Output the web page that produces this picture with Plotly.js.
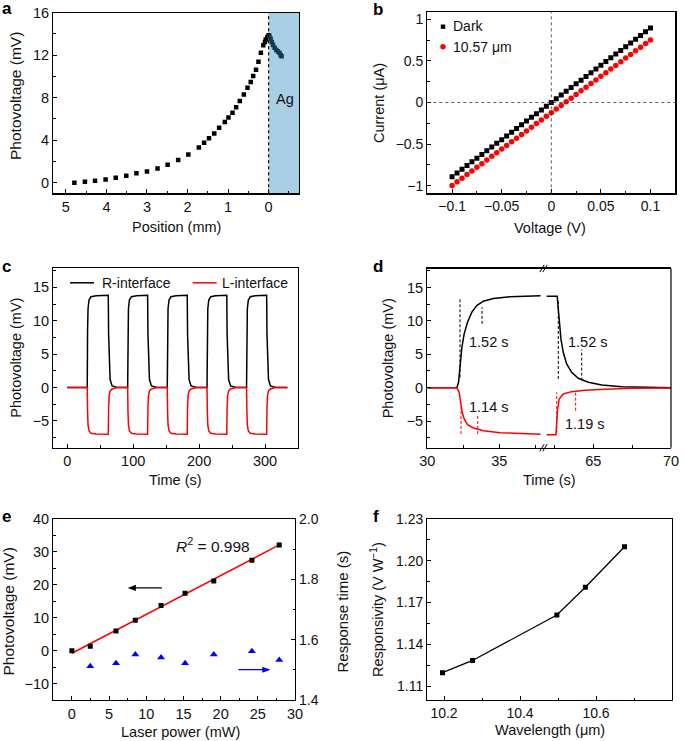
<!DOCTYPE html>
<html><head><meta charset="utf-8">
<script src="https://cdn.plot.ly/plotly-3.0.1.min.js"></script>
<style>html,body{margin:0;padding:0;background:#fff}#chart{width:685px;height:741px}</style>
</head><body><div id="chart"></div>
<script>
// ---------------- DATA ----------------
// a: photovoltage vs position
const aPosition = [4.79,4.53,4.28,4.02,3.77,3.51,3.26,3.00,2.74,2.49,2.23,1.98,1.72,1.59,1.47,1.34,1.22,1.08,0.99,0.89,0.80,0.71,0.61,0.52,0.44,0.38,0.31,0.25,0.19,0.13,0.09,0.07,0.03,0.00];
const aVoltage  = [0.00,0.09,0.19,0.31,0.47,0.66,0.88,1.06,1.34,1.69,2.13,2.66,3.31,3.75,4.19,4.63,5.16,5.72,6.13,6.59,7.09,7.69,8.31,8.94,9.47,10.03,10.63,11.38,12.22,12.93,13.25,13.47,13.72,13.87];
const agPosition = [-0.02,-0.05,-0.08,-0.11,-0.15,-0.19,-0.23,-0.27,-0.30,-0.32];
const agVoltage  = [13.80,13.55,13.25,12.95,12.70,12.50,12.35,12.20,12.00,11.90];

// b: I-V curves
const bVoltage = [-0.1,-0.095,-0.09,-0.085,-0.08,-0.075,-0.07,-0.065,-0.06,-0.055,-0.05,-0.045,-0.04,-0.035,-0.03,-0.025,-0.02,-0.015,-0.01,-0.005,0,0.005,0.01,0.015,0.02,0.025,0.03,0.035,0.04,0.045,0.05,0.055,0.06,0.065,0.07,0.075,0.08,0.085,0.09,0.095,0.1];
const bDark = [-0.890,-0.846,-0.801,-0.757,-0.712,-0.668,-0.624,-0.579,-0.535,-0.490,-0.446,-0.401,-0.357,-0.312,-0.268,-0.223,-0.178,-0.134,-0.089,-0.045,0.000,0.045,0.089,0.134,0.179,0.224,0.268,0.313,0.358,0.402,0.447,0.492,0.536,0.581,0.625,0.670,0.715,0.759,0.804,0.850,0.895];
const bLight = [-0.996,-0.952,-0.908,-0.865,-0.821,-0.777,-0.734,-0.690,-0.646,-0.603,-0.559,-0.515,-0.472,-0.428,-0.384,-0.341,-0.297,-0.253,-0.210,-0.166,-0.122,-0.079,-0.035,0.009,0.052,0.096,0.140,0.183,0.227,0.271,0.314,0.358,0.402,0.445,0.489,0.533,0.576,0.620,0.664,0.707,0.751];
const bNames = ['Dark', '10.57 \u03bcm'];

// c: switching cycles
const cTime = [0,
  30.3,30.8,31.5,33,36,44,62.2,62.7,63.5,65,68,76,
  91.6,92.1,92.8,94.3,97.3,105,121.9,122.4,123.2,124.7,127.7,136,
  151.7,152.2,152.9,154.4,157.4,165,182,182.5,183.3,184.8,187.8,196,
  212,212.5,213.2,214.7,217.7,225,242,242.5,243.3,244.8,247.8,256,
  272,272.5,273.2,274.7,277.7,285,302.5,303,303.8,305.3,308.3,316,
  334];
const cRight = [0,
  0,8.5,11.8,13.1,13.6,13.75,13.8,8,3.5,1.2,0.25,0,
  0,8.5,11.8,13.1,13.6,13.75,13.8,8,3.5,1.2,0.25,0,
  0,8.5,11.8,13.1,13.6,13.75,13.8,8,3.5,1.2,0.25,0,
  0,8.5,11.8,13.1,13.6,13.75,13.8,8,3.5,1.2,0.25,0,
  0,8.5,11.8,13.1,13.6,13.75,13.8,8,3.5,1.2,0.25,0,
  0];
const cLeft = [0,
  0,-3.5,-5.6,-6.5,-6.85,-6.95,-7.0,-3,-1.2,-0.5,-0.2,0,
  0,-3.5,-5.6,-6.5,-6.85,-6.95,-7.0,-3,-1.2,-0.5,-0.2,0,
  0,-3.5,-5.6,-6.5,-6.85,-6.95,-7.0,-3,-1.2,-0.5,-0.2,0,
  0,-3.5,-5.6,-6.5,-6.85,-6.95,-7.0,-3,-1.2,-0.5,-0.2,0,
  0,-3.5,-5.6,-6.5,-6.85,-6.95,-7.0,-3,-1.2,-0.5,-0.2,0,
  0];
const cNames = ['R-interface', 'L-interface'];

// d: single cycle, broken time axis
const dRiseTimeR = [30,32.05,32.17,32.28,32.40,32.56,32.79,33.09,33.43,33.89,34.59,35.74,36.89,37.86];
const dRiseR     = [0,0,0.8,3.3,6.05,8.05,9.8,11.3,12.3,12.95,13.35,13.6,13.7,13.75];
const dRiseTimeL = [30,32.05,32.21,32.33,32.42,32.56,32.79,33.2,33.9,35.05,36.43,37.86];
const dRiseL     = [0,0,-0.7,-2.2,-3.7,-4.7,-5.55,-6.05,-6.45,-6.75,-6.9,-7.0];
const dFallTimeR = [61.99,62.67,62.74,62.80,62.91,63.06,63.28,63.60,64.03,64.68,65.54,66.83,68.34,70];
const dFallR     = [13.7,13.7,11.8,9.8,7.3,5.3,3.55,2.3,1.4,0.8,0.4,0.15,0.05,0];
const dFallTimeL = [61.99,62.59,62.64,62.70,62.80,63.06,63.60,64.46,65.76,67.48,70];
const dFallL     = [-7.05,-7.05,-5.2,-3.2,-1.7,-0.95,-0.6,-0.4,-0.25,-0.1,-0.05];
const dLabels = ['1.52 s','1.14 s','1.52 s','1.19 s'];

// e: laser power dependence
const ePower = [0,2.47,5.93,8.53,11.99,15.22,19.08,24.2,27.88];
const eVoltage = [0,1.32,5.98,9.22,13.68,17.43,21.18,27.46,32.12];
const eFitPower = [0,27.88];
const eFitVoltage = [-0.8,32.12];
const eRtPower = [2.47,5.93,8.53,11.99,15.22,19.08,24.2,27.88];
const eRespTime = [1.512,1.522,1.551,1.541,1.522,1.551,1.562,1.533];

// f: responsivity vs wavelength
const fWavelength = [10.196,10.275,10.497,10.572,10.675];
const fResp = [1.1196,1.1284,1.161,1.181,1.2101];

// ---------------- LAYOUT ----------------
const W = 685, H = 741;
const px = v => v / W;
const py = v => 1 - v / H;
const F = 'Liberation Sans, Arial, Helvetica, sans-serif';
const TXT = '#111';

function ax(fs, o) {
  return Object.assign({
    showline: true, linecolor: '#000', linewidth: 1.2, mirror: true,
    ticks: 'inside', ticklen: 4, tickwidth: 1, tickcolor: '#000',
    showgrid: false, zeroline: false, fixedrange: true,
    tickfont: {family: F, size: fs, color: TXT}
  }, o);
}
const mn = (dt, t0) => ({ticks: 'inside', ticklen: 2.5, tickwidth: 1, tickcolor: '#000', showgrid: false, dtick: dt, tick0: t0});

const layout = {
  width: W, height: H, margin: {l: 0, r: 0, t: 0, b: 0},
  paper_bgcolor: '#fff', plot_bgcolor: 'rgba(0,0,0,0)',
  showlegend: false, font: {family: F, color: TXT},
  // a
  xaxis: ax(14.5, {domain: [px(53.3), px(299)], range: [5.31, -0.75], dtick: 1, tick0: 0, anchor: 'y', minor: mn(0.5, 0)}),
  yaxis: ax(14.5, {domain: [py(193.3), py(12.7)], range: [-1, 16], dtick: 4, tick0: 0, anchor: 'x', minor: mn(2, 0)}),
  // b
  xaxis2: ax(14, {domain: [px(427.3), px(675.3)], range: [-0.125, 0.125], dtick: 0.05, tick0: 0, anchor: 'y2', minor: mn(0.025, 0)}),
  yaxis2: ax(14, {domain: [py(193.3), py(11.7)], range: [-1.09, 1.09], dtick: 0.5, tick0: 0, anchor: 'x2', minor: mn(0.25, 0)}),
  // c
  xaxis3: ax(14.5, {domain: [px(53.3), px(297.7)], range: [-21.2, 349.6], dtick: 100, tick0: 0, anchor: 'y3', minor: mn(50, 0)}),
  yaxis3: ax(14.5, {domain: [py(447.7), py(268.3)], range: [-9, 17.85], dtick: 5, tick0: 0, anchor: 'x3', minor: mn(2.5, 0)}),
  // d (broken axis)
  xaxis4: ax(14.5, {domain: [px(427.3), px(544)], range: [30, 38.1], dtick: 5, tick0: 0, anchor: 'y4', minor: mn(2.5, 0)}),
  xaxis5: ax(14.5, {domain: [px(544), px(671)], range: [61.82, 70.001], dtick: 5, tick0: 0, anchor: 'y4', minor: mn(2.5, 0)}),
  yaxis4: ax(14.5, {domain: [py(447.7), py(268.5)], range: [-9, 17.85], dtick: 5, tick0: 0, anchor: 'x4', mirror: false, minor: mn(2.5, 0)}),
  // e
  xaxis6: ax(14.5, {domain: [px(53.3), px(295)], range: [-2.5, 30], dtick: 5, tick0: 0, anchor: 'y6', minor: mn(2.5, 0)}),
  yaxis6: ax(14.5, {domain: [py(700), py(519)], range: [-15, 40], dtick: 10, tick0: 0, anchor: 'x6', mirror: false, minor: mn(5, 0)}),
  yaxis7: ax(14, {overlaying: 'y6', side: 'right', anchor: 'x6', range: [1.4, 2.0], dtick: 0.2, tick0: 0, tickformat: '.1f', mirror: false, minor: mn(0.1, 0)}),
  // f
  xaxis7: ax(14, {domain: [px(427.3), px(672)], range: [10.156, 10.8], dtick: 0.2, tick0: 0, tickformat: '.1f', anchor: 'y8', minor: mn(0.1, 0)}),
  yaxis8: ax(14, {domain: [py(700), py(519)], range: [1.10, 1.23], dtick: 0.03, tick0: 1.11, tickformat: '.2f', anchor: 'x7', minor: mn(0.015, 1.11)}),
  shapes: [],
  annotations: []
};

// ---------------- TRACES ----------------
const traces = [
  // a
  {x: aPosition, y: aVoltage, xaxis: 'x', yaxis: 'y', mode: 'markers', type: 'scatter',
   marker: {symbol: 'square', size: 4.5, color: '#000'}, name: 'sample'},
  {x: agPosition, y: agVoltage, xaxis: 'x', yaxis: 'y', mode: 'markers', type: 'scatter',
   marker: {symbol: 'square', size: 4.5, color: '#143a4e'}, name: 'Ag'},
  // b
  {x: bVoltage, y: bDark, xaxis: 'x2', yaxis: 'y2', mode: 'markers', type: 'scatter',
   marker: {symbol: 'square', size: 5, color: '#000'}, name: bNames[0]},
  {x: bVoltage, y: bLight, xaxis: 'x2', yaxis: 'y2', mode: 'markers', type: 'scatter',
   marker: {symbol: 'circle', size: 5.5, color: '#ff0000'}, name: bNames[1]},
  // c
  {x: cTime, y: cRight, xaxis: 'x3', yaxis: 'y3', mode: 'lines', type: 'scatter',
   line: {color: '#000', width: 1.5}, name: cNames[0]},
  {x: cTime, y: cLeft, xaxis: 'x3', yaxis: 'y3', mode: 'lines', type: 'scatter',
   line: {color: '#ff0000', width: 1.5}, name: cNames[1]},
  // d
  {x: dRiseTimeR, y: dRiseR, xaxis: 'x4', yaxis: 'y4', mode: 'lines', type: 'scatter', line: {color: '#000', width: 1.5}},
  {x: dRiseTimeL, y: dRiseL, xaxis: 'x4', yaxis: 'y4', mode: 'lines', type: 'scatter', line: {color: '#ff0000', width: 1.5}},
  {x: dFallTimeR, y: dFallR, xaxis: 'x5', yaxis: 'y4', mode: 'lines', type: 'scatter', line: {color: '#000', width: 1.5}},
  {x: dFallTimeL, y: dFallL, xaxis: 'x5', yaxis: 'y4', mode: 'lines', type: 'scatter', line: {color: '#ff0000', width: 1.5}},
  // e
  {x: eFitPower, y: eFitVoltage, xaxis: 'x6', yaxis: 'y6', mode: 'lines', type: 'scatter', line: {color: '#ff0000', width: 1.5}},
  {x: ePower, y: eVoltage, xaxis: 'x6', yaxis: 'y6', mode: 'markers', type: 'scatter',
   marker: {symbol: 'square', size: 5, color: '#000'}},
  {x: eRtPower, y: eRespTime, xaxis: 'x6', yaxis: 'y7', mode: 'markers', type: 'scatter',
   marker: {symbol: 'triangle-up', size: 7, color: '#0000ff'}},
  // f
  {x: fWavelength, y: fResp, xaxis: 'x7', yaxis: 'y8', mode: 'lines+markers', type: 'scatter',
   line: {color: '#000', width: 1.3}, marker: {symbol: 'square', size: 5, color: '#000'}}
];

// ---------------- SHAPES ----------------
const S = layout.shapes;
// a: Ag region and interface line
S.push({type: 'rect', xref: 'x', yref: 'y', x0: 0, x1: -0.75, y0: -1, y1: 16, fillcolor: '#a9cfe7', line: {width: 0}, layer: 'below'});
S.push({type: 'line', xref: 'x', yref: 'y', x0: 0, x1: 0, y0: -1, y1: 16, line: {color: '#000', width: 1.2, dash: 'dot'}});
// b: dotted zero lines
S.push({type: 'line', xref: 'x2', yref: 'y2', x0: 0, x1: 0, y0: -1.09, y1: 1.09, line: {color: '#333', width: 0.8, dash: 'dot'}});
S.push({type: 'line', xref: 'x2', yref: 'y2', x0: -0.125, x1: 0.125, y0: 0, y1: 0, line: {color: '#333', width: 0.8, dash: 'dot'}});
// b legend symbols
S.push({type: 'rect', xref: 'paper', yref: 'paper', x0: px(440.8), x1: px(445.2), y0: py(28.9), y1: py(24.5), fillcolor: '#000', line: {width: 0}});
S.push({type: 'circle', xref: 'paper', yref: 'paper', x0: px(440.3), x1: px(445.7), y0: py(49.4), y1: py(44.0), fillcolor: '#ff0000', line: {width: 0}});
// c legend lines
S.push({type: 'line', xref: 'paper', yref: 'paper', x0: px(70), x1: px(94), y0: py(282.8), y1: py(282.8), line: {color: '#000', width: 1.5}});
S.push({type: 'line', xref: 'paper', yref: 'paper', x0: px(192.7), x1: px(216.7), y0: py(282.8), y1: py(282.8), line: {color: '#ff0000', width: 1.5}});
// d: right frame and break marks
S.push({type: 'line', xref: 'paper', yref: 'paper', x0: px(671), x1: px(671), y0: py(447.7), y1: py(268.5), line: {color: '#000', width: 1.2}});
[268.5, 447.7].forEach(yy => {
  S.push({type: 'line', xref: 'paper', yref: 'paper', x0: px(539.8), x1: px(544.2), y0: py(yy + 3.6), y1: py(yy - 3.6), line: {color: '#000', width: 1}});
  S.push({type: 'line', xref: 'paper', yref: 'paper', x0: px(542.8), x1: px(547.2), y0: py(yy + 3.6), y1: py(yy - 3.6), line: {color: '#000', width: 1}});
});
// d: response-time markers (dashed)
const dash = (xr, x, y0, y1, c) => S.push({type: 'line', xref: xr, yref: 'y4', x0: x, x1: x, y0: y0, y1: y1, line: {color: c, width: 1, dash: '3px,2px'}});
dash('x4', 32.27, 1.55, 13.4, '#000');
dash('x4', 33.80, 9.55, 12.05, '#000');
dash('x4', 32.34, -6.95, -2.95, '#ff0000');
dash('x4', 33.50, -6.95, -3.95, '#ff0000');
dash('x5', 62.74, 1.3, 13.3, '#000');
dash('x5', 64.25, 1.05, 5.7, '#000');
dash('x5', 62.64, -6.95, -0.7, '#ff0000');
dash('x5', 63.86, -3.45, -0.7, '#ff0000');
// e: axis-pointing arrows (shaft + head)
S.push({type: 'line', xref: 'x6', yref: 'y6', x0: 12.1, x1: 8.4, y0: 19.06, y1: 19.06, line: {color: '#000', width: 1.3}});
S.push({type: 'path', xref: 'x6', yref: 'y6', path: 'M 7.5,19.06 L 8.6,20.0 L 8.6,18.12 Z', fillcolor: '#000', line: {width: 0}});
S.push({type: 'line', xref: 'x6', yref: 'y6', x0: 22.4, x1: 25.8, y0: -5.8, y1: -5.8, line: {color: '#0000ff', width: 1.3}});
S.push({type: 'path', xref: 'x6', yref: 'y6', path: 'M 26.7,-5.8 L 25.6,-4.86 L 25.6,-6.74 Z', fillcolor: '#0000ff', line: {width: 0}});

// ---------------- ANNOTATIONS ----------------
const A = layout.annotations;
function pa(text, x, y, o) {
  A.push(Object.assign({xref: 'paper', yref: 'paper', x: px(x), y: py(y), text: text, showarrow: false,
    xanchor: 'center', yanchor: 'middle', font: {family: F, size: 14, color: TXT}}, o || {}));
}
const fnt = s => ({family: F, size: s, color: TXT});
// panel letters
const bold = {family: F, size: 17, color: '#000', weight: 'bold'};
pa('<b>a</b>', 0, 8.5, {xanchor: 'left', font: bold});
pa('<b>b</b>', 370.5, 9.5, {xanchor: 'left', font: bold});
pa('<b>c</b>', 0, 266, {xanchor: 'left', font: bold});
pa('<b>d</b>', 370.5, 266, {xanchor: 'left', font: bold});
pa('<b>e</b>', 0, 516, {xanchor: 'left', font: bold});
pa('<b>f</b>', 371, 516, {xanchor: 'left', font: bold});
// axis titles
pa('Photovoltage (mV)', 15, 96, {textangle: -90, font: fnt(15.5)});
pa('Position (mm)', 176.7, 226.7, {font: fnt(14.5)});
pa('Current (\u03bcA)', 379.7, 103.3, {textangle: -90, font: fnt(14.5)});
pa('Voltage (V)', 550, 227.7, {font: fnt(14.5)});
pa('Photovoltage (mV)', 15.7, 358, {textangle: -90, font: fnt(14.5)});
pa('Time (s)', 175, 480, {font: fnt(14.5)});
pa('Photovoltage (mV)', 388, 358.3, {textangle: -90, font: fnt(14.5)});
pa('Time (s)', 549.7, 480, {font: fnt(14.5)});
pa('Photovoltage (mV)', 7.5, 612, {textangle: -90, font: fnt(15.5)});
pa('Laser power (mW)', 180.8, 731.7, {font: fnt(14.5)});
pa('Response time (s)', 341.5, 612, {textangle: -90, font: fnt(15)});
pa('Responsivity (V W<sup>\u22121</sup>)', 377, 610, {textangle: -90, font: fnt(14.5)});
pa('Wavelength (\u03bcm)', 549.7, 730, {font: fnt(14.5)});
// legends
pa(bNames[0], 451.3, 26.2, {xanchor: 'left', font: fnt(14)});
pa(bNames[1], 451.3, 46.7, {xanchor: 'left', font: fnt(14)});
pa(cNames[0], 100, 282.8, {xanchor: 'left', font: fnt(14)});
pa(cNames[1], 220, 282.8, {xanchor: 'left', font: fnt(14)});
// a: Ag label
A.push({xref: 'x', yref: 'y', x: -0.40, y: 7.9, text: 'Ag', showarrow: false, font: fnt(14.5)});
// d labels
const dl = (xr, x, y, t) => A.push({xref: xr, yref: 'y4', x: x, y: y, text: t, showarrow: false, font: fnt(14.5)});
dl('x4', 34.26, 6.9, dLabels[0]);
dl('x4', 34.31, -2.85, dLabels[1]);
dl('x5', 64.68, 6.9, dLabels[2]);
dl('x5', 64.46, -5.45, dLabels[3]);
// e: R^2
A.push({xref: 'x6', yref: 'y6', x: 19, y: 32.1, text: '<i>R</i><sup>2</sup> = 0.998', showarrow: false, font: fnt(15.5)});

Plotly.newPlot('chart', traces, layout, {displayModeBar: false, staticPlot: true});
</script>
</body></html>
